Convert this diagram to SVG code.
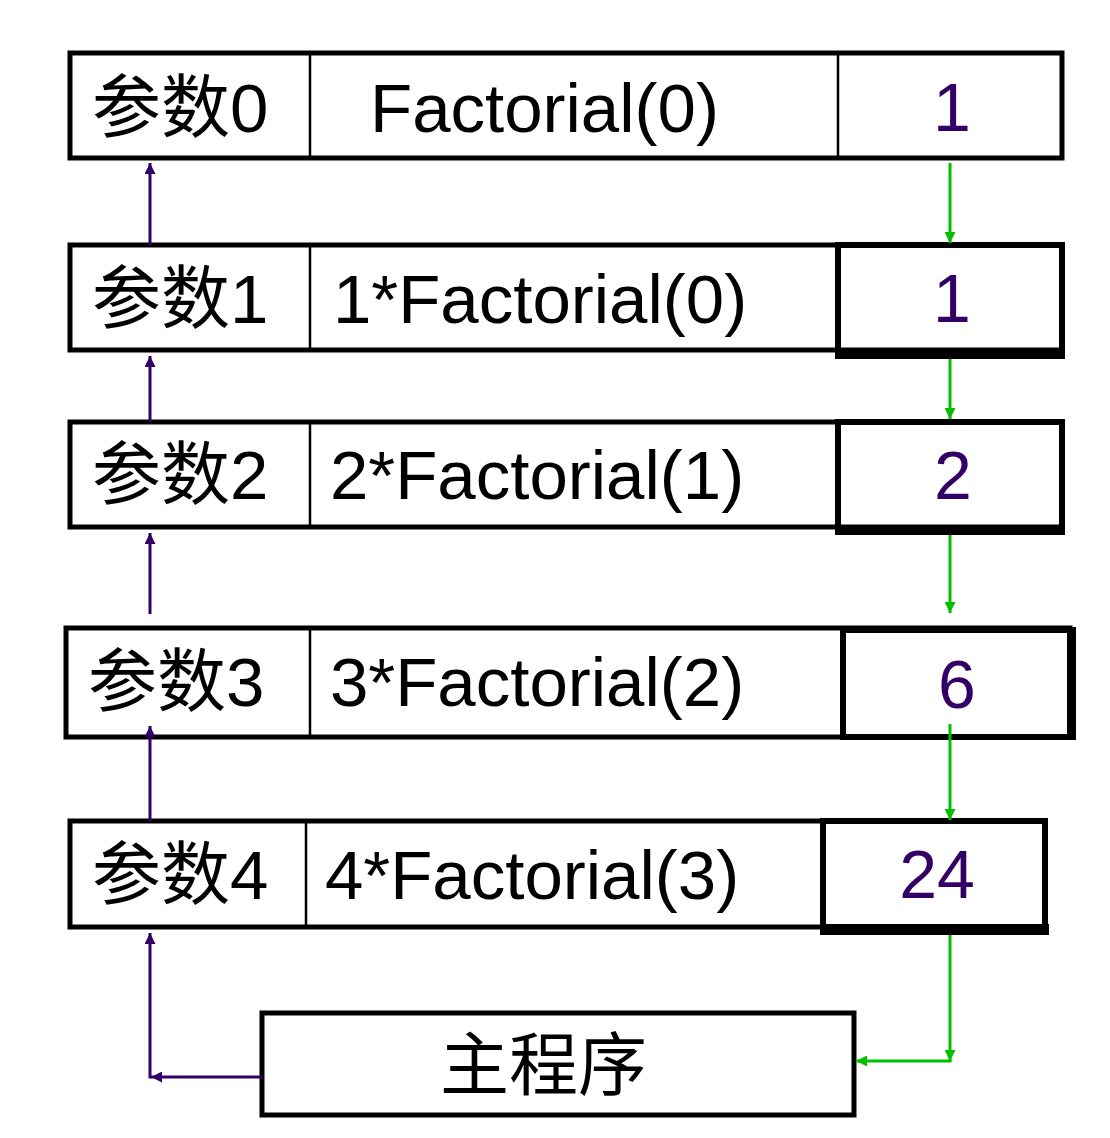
<svg xmlns="http://www.w3.org/2000/svg" width="1110" height="1138" viewBox="0 0 1110 1138">
<defs>
<style>
.box{fill:#fff;stroke:#000;stroke-width:5}
.val{fill:none;stroke:#000;stroke-width:6}
.div{stroke:#000;stroke-width:2.5}
.t{font-family:"Liberation Sans","Noto Sans CJK SC",sans-serif;font-size:69px;fill:#000}
.v{font-family:"Liberation Sans",sans-serif;font-size:68px;fill:#330066;text-anchor:middle}
.p{stroke:#330066;stroke-width:3;fill:none;marker-end:url(#ap)}
.g{stroke:#00C000;stroke-width:3;fill:none;marker-end:url(#ag)}
</style>
<marker id="ap" viewBox="0 0 10 10" refX="10" refY="5" markerWidth="12" markerHeight="11" markerUnits="userSpaceOnUse" orient="auto"><path d="M0,0L10,5L0,10z" fill="#330066"/></marker>
<marker id="ag" viewBox="0 0 10 10" refX="10" refY="5" markerWidth="12" markerHeight="11" markerUnits="userSpaceOnUse" orient="auto"><path d="M0,0L10,5L0,10z" fill="#00C000"/></marker>
</defs>
<rect width="1110" height="1138" fill="#fff"/>

<g id="row0">
<rect class="box" x="70" y="53" width="992" height="105"/>
<line class="div" x1="310" y1="53" x2="310" y2="158"/>
<line class="div" x1="838" y1="53" x2="838" y2="158"/>
<text class="t" x="92" y="132">参数0</text>
<text class="t" x="370" y="132">Factorial(0)</text>
<text class="v" x="952" y="131">1</text>
</g>

<g id="row1">
<rect class="box" x="70" y="245" width="992" height="105"/>
<line class="div" x1="310" y1="245" x2="310" y2="350"/>
<rect class="val" x="838" y="245" width="224" height="108"/>
<rect x="835" y="349" width="230" height="10" fill="#000"/>
<text class="t" x="92" y="323">参数1</text>
<text class="t" x="333" y="323">1*Factorial(0)</text>
<text class="v" x="952" y="322">1</text>
</g>

<g id="row2">
<rect class="box" x="70" y="422" width="992" height="105"/>
<line class="div" x1="310" y1="422" x2="310" y2="527"/>
<rect class="val" x="838" y="422" width="224" height="108"/>
<rect x="835" y="525" width="230" height="10" fill="#000"/>
<text class="t" x="92" y="499">参数2</text>
<text class="t" x="330" y="499">2*Factorial(1)</text>
<text class="v" x="953" y="499">2</text>
</g>

<g id="row3">
<rect class="box" x="66" y="628" width="1004" height="109"/>
<line class="div" x1="310" y1="628" x2="310" y2="737"/>
<rect class="val" x="843" y="630" width="227" height="107"/>
<rect x="1067" y="627" width="9" height="113" fill="#000"/>
<text class="t" x="88" y="706">参数3</text>
<text class="t" x="330" y="706">3*Factorial(2)</text>
<text class="v" x="957" y="708">6</text>
</g>

<g id="row4">
<rect class="box" x="70" y="821" width="975" height="106"/>
<line class="div" x1="306" y1="821" x2="306" y2="927"/>
<rect class="val" x="823" y="821" width="222" height="108"/>
<rect x="820" y="924" width="229" height="11" fill="#000"/>
<text class="t" x="92" y="899">参数4</text>
<text class="t" x="325" y="899">4*Factorial(3)</text>
<text class="v" x="937" y="898">24</text>
</g>

<g id="main">
<rect class="box" x="262" y="1013" width="592" height="102"/>
<text class="t" x="440" y="1090">主程序</text>
</g>

<g id="connectors">
<line class="p" x1="150" y1="245" x2="150" y2="163"/>
<line class="p" x1="150" y1="422" x2="150" y2="356"/>
<line class="p" x1="150" y1="614" x2="150" y2="533"/>
<line class="p" x1="150" y1="821" x2="150" y2="726"/>
<line class="p" x1="262" y1="1077" x2="151" y2="1077"/>
<line class="p" x1="150" y1="1078.5" x2="150" y2="933"/>
<line class="g" x1="950" y1="163" x2="950" y2="243"/>
<line class="g" x1="950" y1="359" x2="950" y2="419"/>
<line class="g" x1="950" y1="535" x2="950" y2="613"/>
<line class="g" x1="950" y1="724" x2="950" y2="820"/>
<line class="g" x1="950" y1="935" x2="950" y2="1061"/>
<line class="g" x1="951.5" y1="1061" x2="856" y2="1061"/>
</g>
</svg>
